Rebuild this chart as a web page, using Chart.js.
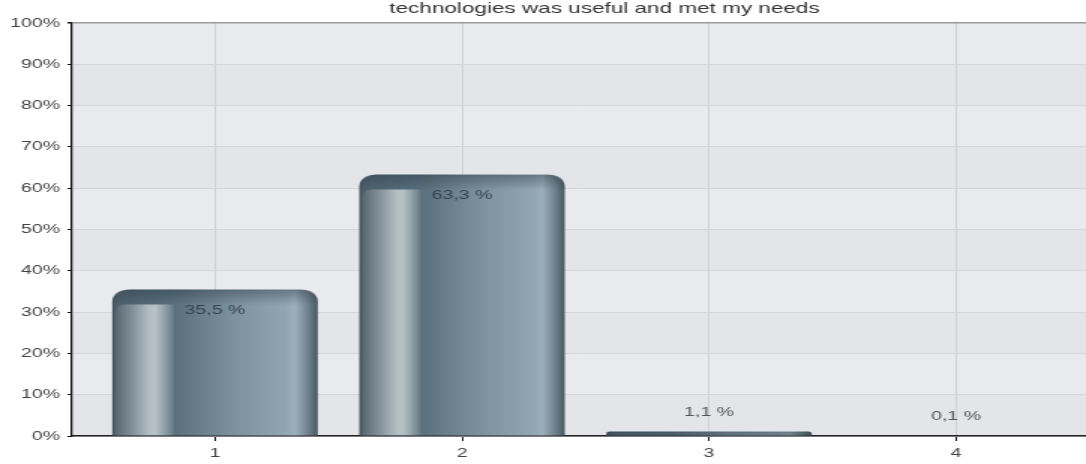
<!DOCTYPE html>
<html>
<head>
<meta charset="utf-8">
<script src="https://cdn.jsdelivr.net/npm/chart.js@4.4.1/dist/chart.umd.min.js"></script>
<style>
  html, body { margin: 0; padding: 0; background: #fff; overflow: hidden; }
</style>
</head>
<body>
<!-- the original picture is stretched sideways, so the canvas is drawn narrow and widened by CSS -->
<canvas id="chart" width="724" height="464" style="width:1086px;height:464px"></canvas>
<script>
// --- datos ---
const chartTitle = 'technologies was useful and met my needs';
const categories = ['1', '2', '3', '4'];
const shares = [35.5, 63.3, 1.1, 0.1];
const yTicks = [0, 10, 20, 30, 40, 50, 60, 70, 80, 90, 100];

const BAR_PCT = 0.832;
const FONT = "'Liberation Sans', Arial, sans-serif";

function fmtShare(v) {
    return v.toFixed(1).replace('.', ',') + ' %';
}

// degradado horizontal del cuerpo de la barra
function barFill(context) {
    const chart = context.chart;
    const xs = chart.scales.x;
    if (!xs || context.type !== 'data') return '#6d828e';
    const cx = xs.getPixelForValue(context.raw.x);
    const w = (xs.getPixelForValue(1) - xs.getPixelForValue(0)) * BAR_PCT;
    if (!isFinite(cx) || !isFinite(w) || w <= 0) return '#6d828e';
    const g = chart.ctx.createLinearGradient(cx - w / 2, 0, cx + w / 2, 0);
    g.addColorStop(0, '#44555f');
    g.addColorStop(0.03, '#4f6470');
    g.addColorStop(0.29, '#587080');
    g.addColorStop(0.31, '#5b717d');
    g.addColorStop(0.6, '#7d939f');
    g.addColorStop(0.84, '#90a6b2');
    g.addColorStop(0.89, '#9cb0bb');
    g.addColorStop(0.95, '#70838e');
    g.addColorStop(1, '#475862');
    return g;
}

function roundTopPath(ctx, x, y, w, h, r) {
    r = Math.min(r, h, w / 2);
    ctx.beginPath();
    ctx.moveTo(x, y + h);
    ctx.lineTo(x, y + r);
    ctx.quadraticCurveTo(x, y, x + r, y);
    ctx.lineTo(x + w - r, y);
    ctx.quadraticCurveTo(x + w, y, x + w, y + r);
    ctx.lineTo(x + w, y + h);
    ctx.closePath();
}

// fondo del área con bandas alternas
const bandsPlugin = {
    id: 'bands',
    beforeDraw(chart) {
        const { ctx, chartArea, scales } = chart;
        ctx.save();
        for (let i = 0; i < yTicks.length - 1; i++) {
            const top = scales.y.getPixelForValue(yTicks[i + 1]);
            const bot = scales.y.getPixelForValue(yTicks[i]);
            ctx.fillStyle = (i % 2 === 0) ? '#e4e5e8' : '#e8eaed';
            ctx.fillRect(chartArea.left, top, chartArea.right - chartArea.left, bot - top);
        }
        ctx.restore();
    }
};

// título (la primera línea queda fuera de la imagen original)
const titlePlugin = {
    id: 'cutTitle',
    afterDraw(chart) {
        const ctx = chart.ctx;
        ctx.save();
        ctx.font = '15px ' + FONT;
        ctx.fillStyle = '#333';
        ctx.textAlign = 'center';
        ctx.textBaseline = 'alphabetic';
        ctx.fillText(chartTitle, chart.chartArea.left + 355, 13);
        ctx.restore();
    }
};

// brillo de las barras y etiquetas de valor
const barDecorPlugin = {
    id: 'barDecor',
    afterDatasetsDraw(chart) {
        const ctx = chart.ctx;
        const meta = chart.getDatasetMeta(0);
        meta.data.forEach((bar, i) => {
            const { x, y, base, width } = bar.getProps(['x', 'y', 'base', 'width'], true);
            const left = x - width / 2;
            const h = base - y;

            ctx.save();
            roundTopPath(ctx, left, y, width, h, 12);
            ctx.clip();

            // oscurecer un poco el borde superior
            const tg = ctx.createLinearGradient(0, y, 0, y + 16);
            tg.addColorStop(0, 'rgba(45,60,70,0.45)');
            tg.addColorStop(1, 'rgba(45,60,70,0)');
            ctx.fillStyle = tg;
            ctx.fillRect(left, y, width, 16);

            // panel claro a la izquierda
            if (h > 24) {
                const px = left + width * 0.015;
                const pw = width * 0.285;
                const py = y + 15;
                const pg = ctx.createLinearGradient(px, 0, px + pw, 0);
                pg.addColorStop(0, '#57666f');
                pg.addColorStop(0.3, '#84939b');
                pg.addColorStop(0.58, '#b3bec4');
                pg.addColorStop(0.68, '#b8c2c7');
                pg.addColorStop(0.82, '#97a5ac');
                pg.addColorStop(1, '#657984');
                ctx.fillStyle = pg;
                ctx.beginPath();
                ctx.moveTo(px, base);
                ctx.lineTo(px, py + 8);
                ctx.quadraticCurveTo(px, py, px + 7, py);
                ctx.lineTo(px + pw, py);
                ctx.lineTo(px + pw, base);
                ctx.closePath();
                ctx.fill();
            }
            ctx.restore();

            // etiqueta
            ctx.save();
            ctx.font = '13px ' + FONT;
            ctx.textAlign = 'center';
            ctx.textBaseline = 'middle';
            if (h > 30) {
                ctx.fillStyle = '#34444e';
                ctx.fillText(fmtShare(shares[i]), x, y + 21);
            } else {
                ctx.fillStyle = '#555';
                ctx.fillText(fmtShare(shares[i]), x, y - 19);
            }
            ctx.restore();
        });
    }
};

const ctx = document.getElementById('chart').getContext('2d');

new Chart(ctx, {
    type: 'bar',
    data: {
        datasets: [{
            data: shares.map((v, i) => ({ x: i, y: v })),
            backgroundColor: barFill,
            borderWidth: 0,
            borderRadius: { topLeft: 12, topRight: 12, bottomLeft: 0, bottomRight: 0 },
            borderSkipped: 'bottom',
            categoryPercentage: 1,
            barPercentage: BAR_PCT
        }]
    },
    options: {
        responsive: false,
        animation: false,
        layout: { padding: { top: 23, right: 0, bottom: 0, left: 0 } },
        scales: {
            x: {
                type: 'linear',
                min: -0.579,
                max: 3.526,
                offset: false,
                afterFit: (scale) => { scale.height = 28; },
                afterBuildTicks: (scale) => {
                    scale.ticks = categories.map((c, i) => ({ value: i }));
                },
                grid: {
                    offset: false,
                    color: '#cfd1d4',
                    tickColor: '#111',
                    tickLength: 5
                },
                border: { color: '#222', width: 1.5 },
                ticks: {
                    color: '#444',
                    padding: 5,
                    font: { size: 13, family: FONT },
                    callback: (value) => categories[value]
                }
            },
            y: {
                min: 0,
                max: 100,
                afterFit: (scale) => { scale.width = 48; },
                afterBuildTicks: (scale) => {
                    scale.ticks = yTicks.map(v => ({ value: v }));
                },
                grid: {
                    color: (c) => (c.tick && c.tick.value === 100) ? '#9a9a9a' : '#d4d5d8',
                    lineWidth: (c) => (c.tick && c.tick.value === 100) ? 1.5 : 1,
                    tickColor: '#111',
                    tickLength: 3
                },
                border: { color: '#111', width: 1.3 },
                ticks: {
                    color: '#444',
                    padding: 5,
                    font: { size: 13, family: FONT },
                    callback: (value) => value + '%'
                }
            }
        },
        plugins: {
            legend: { display: false },
            tooltip: { enabled: false },
            title: { display: false }
        }
    },
    plugins: [bandsPlugin, barDecorPlugin, titlePlugin]
});
</script>
</body>
</html>
